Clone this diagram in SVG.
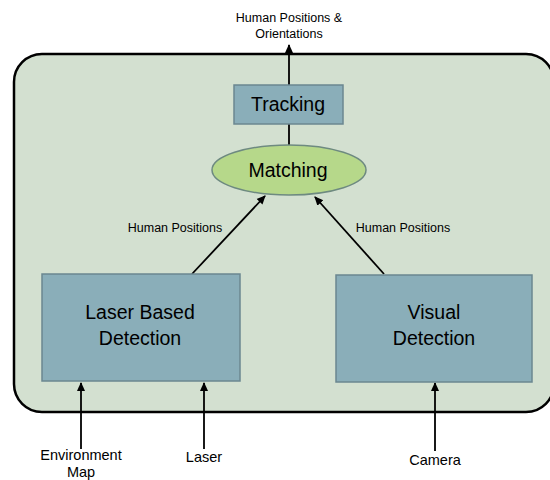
<svg xmlns="http://www.w3.org/2000/svg" width="550" height="480" viewBox="0 0 550 480">
<style>
text{font-family:"Liberation Sans",Arial,sans-serif;fill:#000;text-anchor:middle}
.box{fill:#8aaeb9;stroke:#6b8790;stroke-width:1.5}
.lbl{font-size:12.5px}
.big{font-size:19.5px}
.io{font-size:14.5px}
.c{stroke:#000;stroke-width:1.8;fill:none}
</style>
<defs>
<marker id="ah" markerWidth="10" markerHeight="10" refX="8" refY="5" orient="auto" markerUnits="userSpaceOnUse">
<path d="M0,1 L9,5 L0,9 Z" fill="#000"/>
</marker>
</defs>
<rect x="14" y="54" width="540" height="358" rx="28" ry="28" fill="#d3e0d0" stroke="#000" stroke-width="2.5"/>
<g id="connectors">
<line class="c" x1="289" y1="85" x2="289" y2="45" marker-end="url(#ah)"/>
<line class="c" x1="289" y1="124" x2="289" y2="145"/>
<line class="c" x1="192" y1="274" x2="265" y2="196" marker-end="url(#ah)"/>
<line class="c" x1="384" y1="274" x2="315" y2="197" marker-end="url(#ah)"/>
<line class="c" x1="81" y1="449" x2="81" y2="383" marker-end="url(#ah)"/>
<line class="c" x1="204" y1="449" x2="204" y2="383" marker-end="url(#ah)"/>
<line class="c" x1="435" y1="451" x2="435" y2="383" marker-end="url(#ah)"/>
<text class="lbl" x="175" y="232">Human Positions</text>
<text class="lbl" x="403" y="232">Human Positions</text>
</g>
<g id="output">
<text class="lbl" x="289" y="22">Human Positions &amp;</text>
<text class="lbl" x="289" y="38">Orientations</text>
</g>
<g id="tracking">
<rect class="box" x="234" y="85" width="109" height="39"/>
<text class="big" x="288" y="111">Tracking</text>
</g>
<g id="matching">
<ellipse cx="289" cy="170" rx="77" ry="25" fill="#b6d88a" stroke="#6e8a80" stroke-width="1.5"/>
<text class="big" x="288" y="177">Matching</text>
</g>
<g id="laser-detection">
<rect class="box" x="42" y="274" width="198" height="107"/>
<text class="big" x="140" y="319">Laser Based</text>
<text class="big" x="140" y="345">Detection</text>
</g>
<g id="visual-detection">
<rect class="box" x="336" y="275" width="196" height="107"/>
<text class="big" x="434" y="319">Visual</text>
<text class="big" x="434" y="345">Detection</text>
</g>
<g id="env-map">
<text class="io" x="81" y="460">Environment</text>
<text class="io" x="81" y="477">Map</text>
</g>
<g id="laser-input">
<text class="io" x="204" y="462">Laser</text>
</g>
<g id="camera">
<text class="io" x="435" y="465">Camera</text>
</g>
</svg>
